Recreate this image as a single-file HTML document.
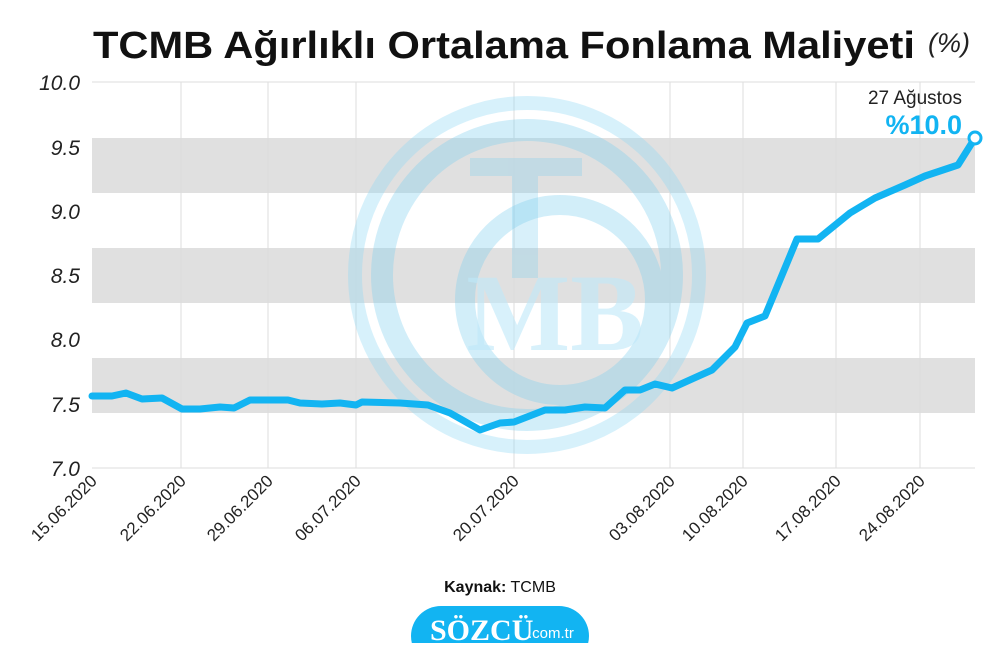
<!DOCTYPE html>
<html><head><meta charset="utf-8"><style>
body{margin:0;background:#fff;width:1000px;height:643px;overflow:hidden;font-family:"Liberation Sans","DejaVu Sans",sans-serif}
</style></head><body>
<svg width="1000" height="643" viewBox="0 0 1000 643" xmlns="http://www.w3.org/2000/svg" font-family="Liberation Sans, DejaVu Sans, sans-serif">
<text x="93" y="58" font-size="38" font-weight="bold" fill="#111" textLength="822" lengthAdjust="spacingAndGlyphs">TCMB Ağırlıklı Ortalama Fonlama Maliyeti</text>
<text x="928" y="52" font-size="27" font-style="italic" fill="#222">(%)</text>
<g fill="#e0e0e0"><rect x="92" y="138" width="883" height="55"/><rect x="92" y="248" width="883" height="55"/><rect x="92" y="358" width="883" height="55"/></g>
<g stroke="#ddd" stroke-width="1"><line x1="92" y1="82" x2="975" y2="82"/><line x1="92" y1="468" x2="975" y2="468"/>
<line x1="181" y1="82" x2="181" y2="468"/><line x1="268" y1="82" x2="268" y2="468"/><line x1="356" y1="82" x2="356" y2="468"/><line x1="514" y1="82" x2="514" y2="468"/><line x1="670" y1="82" x2="670" y2="468"/><line x1="743" y1="82" x2="743" y2="468"/><line x1="836" y1="82" x2="836" y2="468"/><line x1="920" y1="82" x2="920" y2="468"/></g>
<g fill="none" opacity="0.35">
<circle cx="527" cy="275" r="172" stroke="#8fd8f5" stroke-width="14"/>
<circle cx="527" cy="275" r="145" stroke="#7fcfef" stroke-width="22"/>
<circle cx="560" cy="300" r="95" stroke="#7fcfef" stroke-width="20"/>
</g>
<g opacity="0.3" fill="#7fcfef"><rect x="470" y="158" width="112" height="18"/><rect x="512" y="158" width="26" height="120"/></g>
<text x="555" y="350" font-size="110" font-weight="bold" fill="#bfe9fa" opacity="0.6" text-anchor="middle" font-family="Liberation Serif, serif">MB</text>
<g font-size="21" font-style="italic" fill="#222" text-anchor="end">
<text x="80" y="90">10.0</text><text x="80" y="155">9.5</text><text x="80" y="219">9.0</text><text x="80" y="283">8.5</text><text x="80" y="347">8.0</text><text x="80" y="412">7.5</text><text x="80" y="476">7.0</text></g>
<polyline fill="none" stroke="#12b4f2" stroke-width="7" stroke-linejoin="round" stroke-linecap="round" points="92,396 112,396 126,393 142,399 162,398 182,409 200,409 220,407 234,408 250,400 270,400 288,400 300,403 322,404 340,403 356,405 362,402 400,403 428,405 450,413 480,430 500,423 514,422 545,410 565,410 585,407 605,408 625,390 640,390 655,384 672,388 712,370 735,347 747,323 765,316 797,239 818,239 850,213 875,198 905,185 925,176 958,165 975,138"/>
<circle cx="975" cy="138" r="6" fill="#fff" stroke="#12b4f2" stroke-width="3"/>
<text x="962" y="104" font-size="19" fill="#222" text-anchor="end">27 Ağustos</text>
<text x="962" y="134" font-size="27" font-weight="bold" fill="#12b4f2" text-anchor="end">%10.0</text>
<g font-size="17" fill="#222" text-anchor="end">
<text transform="translate(98,482) rotate(-45)">15.06.2020</text>
<text transform="translate(187,482) rotate(-45)">22.06.2020</text>
<text transform="translate(274,482) rotate(-45)">29.06.2020</text>
<text transform="translate(362,482) rotate(-45)">06.07.2020</text>
<text transform="translate(520,482) rotate(-45)">20.07.2020</text>
<text transform="translate(676,482) rotate(-45)">03.08.2020</text>
<text transform="translate(749,482) rotate(-45)">10.08.2020</text>
<text transform="translate(842,482) rotate(-45)">17.08.2020</text>
<text transform="translate(926,482) rotate(-45)">24.08.2020</text></g>
<text x="500" y="592" font-size="16" fill="#111" text-anchor="middle"><tspan font-weight="bold">Kaynak:</tspan> TCMB</text>
<rect x="411" y="606" width="178" height="60" rx="30" fill="#12b4f2"/>
<text x="430" y="640" font-size="30" font-weight="bold" fill="#fff" font-family="Liberation Serif, serif">SÖZCÜ</text>
<text x="528" y="638" font-size="15" fill="#fff">.com.tr</text>
</svg>
</body></html>
